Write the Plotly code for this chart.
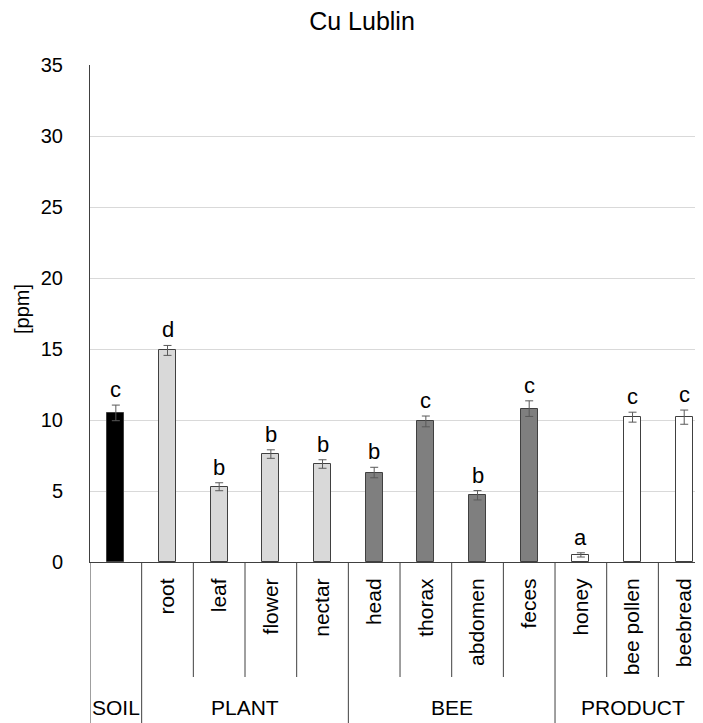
import plotly.graph_objects as go

chart_title = "Cu Lublin"
y_title = "[ppm]"
items = ["SOIL", "root", "leaf", "flower", "nectar", "head", "thorax", "abdomen",
         "feces", "honey", "bee pollen", "beebread"]
tick_labels = ["", "root", "leaf", "flower", "nectar", "head", "thorax", "abdomen",
               "feces", "honey", "bee pollen", "beebread"]
groups = ["SOIL", "PLANT", "PLANT", "PLANT", "PLANT", "BEE", "BEE", "BEE", "BEE",
          "PRODUCT", "PRODUCT", "PRODUCT"]
values = [10.5, 14.9, 5.3, 7.6, 6.9, 6.3, 9.9, 4.7, 10.8, 0.5, 10.2, 10.2]
errors = [0.55, 0.35, 0.28, 0.3, 0.3, 0.37, 0.38, 0.33, 0.55, 0.15, 0.35, 0.5]
letters = ["c", "d", "b", "b", "b", "b", "c", "b", "c", "a", "c", "c"]
group_colors = {"SOIL": "#000000", "PLANT": "#d9d9d9", "BEE": "#7f7f7f", "PRODUCT": "#ffffff"}
y_ticks = [0, 5, 10, 15, 20, 25, 30, 35]

FONT = "Liberation Sans, Arial, sans-serif"

# the page places the figure at an 8px body margin; work in screen pixels and shift
OFF = 8
W, H = 703, 723
L = 90 - OFF
R = OFF
T = 65 - OFF
PLOT_BOTTOM = 562 - OFF
plot_h = PLOT_BOTTOM - T
plot_w = W - L - R
col_w = 51.67
x_max = -0.5 + plot_w / col_w


def py(screen_y):
    """screen pixel y (from top) -> paper y"""
    return (PLOT_BOTTOM - (screen_y - OFF)) / plot_h


def px(screen_x):
    return ((screen_x - OFF) - L) / plot_w


fig = go.Figure()
fig.add_trace(go.Bar(
    x=items, y=values, width=0.33,
    marker=dict(color=[group_colors[g] for g in groups],
                line=dict(color="#404040", width=1)),
    error_y=dict(type="data", array=errors, color="#595959", thickness=1, width=4),
    showlegend=False,
))

annotations = []
for i, it in enumerate(items):
    annotations.append(dict(x=it, y=values[i] + errors[i], xref="x", yref="y",
                            text=letters[i], showarrow=False, yanchor="bottom",
                            yshift=1, font=dict(family=FONT, size=22, color="#000000")))

# group labels
seen = []
for g in groups:
    if g not in seen:
        seen.append(g)
for g in seen:
    idx = [i for i, gg in enumerate(groups) if gg == g]
    cx = sum(idx) / len(idx)
    annotations.append(dict(x=cx, y=py(707), xref="x", yref="paper", text=g,
                            showarrow=False, yanchor="middle", xanchor="center",
                            font=dict(family=FONT, size=21, color="#000000")))

annotations.append(dict(x=px(22), y=py(309), xref="paper", yref="paper",
                        text=y_title, textangle=-90, showarrow=False,
                        xanchor="center", yanchor="middle",
                        font=dict(family=FONT, size=20, color="#000000")))

shapes = []
# vertical dividers
for i in range(len(items) - 1):
    boundary = groups[i] != groups[i + 1]
    shapes.append(dict(type="line", xref="x", yref="paper", x0=i + 0.5, x1=i + 0.5,
                       y0=0, y1=py(H + 10 if boundary else 677),
                       line=dict(color="#404040", width=1)))
shapes.append(dict(type="line", xref="x", yref="paper", x0=-0.5, x1=-0.5,
                   y0=0, y1=py(H + 10), line=dict(color="#404040", width=1)))

fig.update_layout(
    width=W, height=H,
    margin=dict(l=L, r=R, t=T, b=H - PLOT_BOTTOM, autoexpand=False),
    paper_bgcolor="white", plot_bgcolor="white",
    title=dict(text=chart_title, x=(362 - OFF) / W, xanchor="center",
               y=1 - (21 - OFF) / H, yanchor="middle",
               font=dict(family=FONT, size=25, color="#000000")),
    annotations=annotations, shapes=shapes,
    bargap=0,
)
fig.update_xaxes(range=[-0.5, x_max], tickmode="array", tickvals=items, ticktext=tick_labels,
                 tickangle=-90, ticks="", showgrid=False, showline=True, linecolor="#404040",
                 linewidth=1, ticklabelstandoff=7, automargin=False,
                 tickfont=dict(family=FONT, size=21, color="#000000"))
fig.update_yaxes(range=[0, 35], tickvals=y_ticks, showgrid=True, gridcolor="#d9d9d9",
                 gridwidth=1, zeroline=False, showline=True, linecolor="#404040", linewidth=1,
                 ticks="", ticklabelstandoff=22, automargin=False,
                 tickfont=dict(family=FONT, size=20, color="#000000"))

fig.write_html("out.html")
